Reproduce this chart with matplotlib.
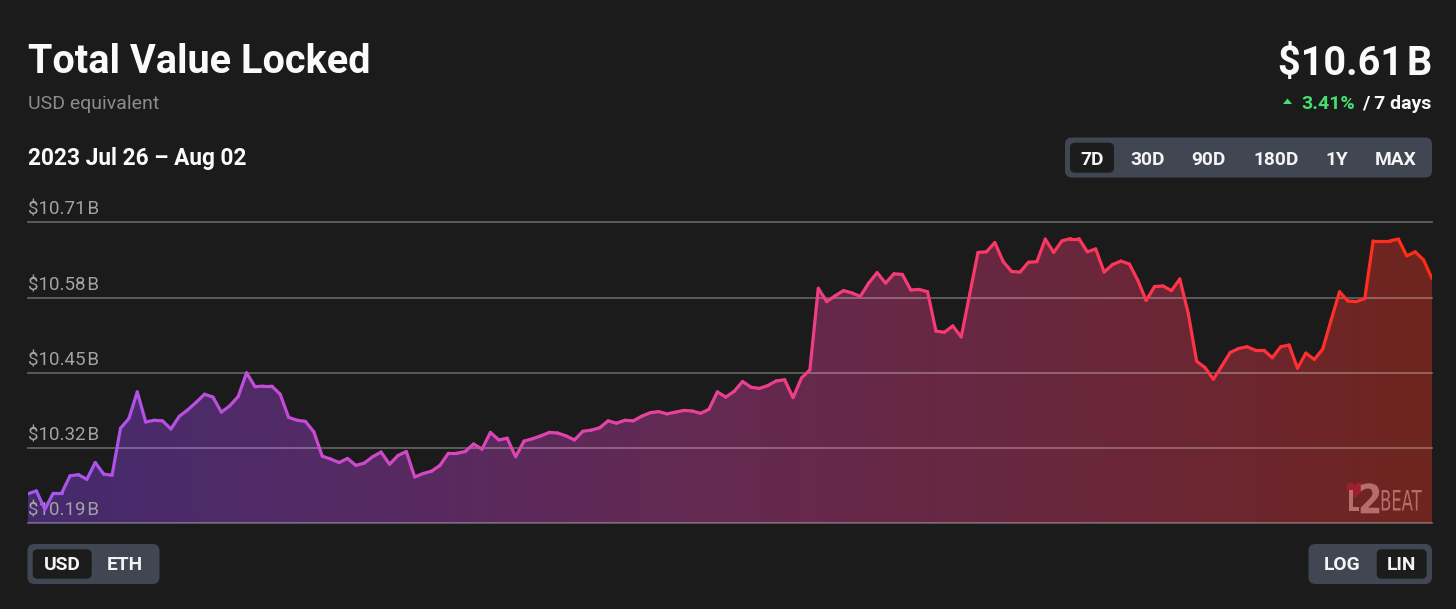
import numpy as np
import matplotlib
matplotlib.use("Agg")
import matplotlib.pyplot as plt
from matplotlib.collections import LineCollection
from matplotlib.colors import LinearSegmentedColormap
from matplotlib.patches import FancyBboxPatch, PathPatch, Polygon
from matplotlib.textpath import TextPath
from matplotlib.font_manager import FontProperties
from matplotlib.transforms import Affine2D, ScaledTranslation

# ---------------- data ----------------
tvl_billion = [
    10.241, 10.246, 10.214, 10.242, 10.242, 10.272, 10.274, 10.266, 10.295, 10.275,
    10.273, 10.354, 10.371, 10.417, 10.365, 10.368, 10.367, 10.353, 10.375, 10.386,
    10.399, 10.413, 10.408, 10.382, 10.393, 10.409, 10.450, 10.426, 10.427, 10.427,
    10.413, 10.373, 10.368, 10.366, 10.348, 10.306, 10.301, 10.295, 10.302, 10.290,
    10.294, 10.305, 10.313, 10.292, 10.307, 10.314, 10.270, 10.276, 10.280, 10.290,
    10.311, 10.311, 10.314, 10.327, 10.318, 10.347, 10.334, 10.337, 10.305, 10.332,
    10.336, 10.341, 10.347, 10.346, 10.341, 10.334, 10.349, 10.351, 10.355, 10.367,
    10.363, 10.368, 10.367, 10.375, 10.381, 10.383, 10.379, 10.382, 10.385, 10.384,
    10.380, 10.387, 10.417, 10.408, 10.418, 10.435, 10.425, 10.423, 10.428, 10.436,
    10.438, 10.407, 10.441, 10.455, 10.596, 10.573, 10.583, 10.592, 10.588, 10.582,
    10.605, 10.623, 10.605, 10.621, 10.620, 10.593, 10.594, 10.590, 10.522, 10.520,
    10.531, 10.512, 10.585, 10.658, 10.659, 10.675, 10.642, 10.625, 10.624, 10.641,
    10.642, 10.681, 10.658, 10.678, 10.682, 10.682, 10.659, 10.664, 10.624, 10.637,
    10.643, 10.638, 10.610, 10.575, 10.599, 10.600, 10.592, 10.612, 10.553, 10.470,
    10.459, 10.439, 10.462, 10.485, 10.492, 10.495, 10.489, 10.489, 10.476, 10.495,
    10.498, 10.458, 10.484, 10.473, 10.491, 10.541, 10.590, 10.574, 10.573, 10.578,
    10.678, 10.678, 10.678, 10.681, 10.652, 10.659, 10.645, 10.613,
]
hours = list(range(len(tvl_billion)))
y_ticks = [10.19, 10.32, 10.45, 10.58, 10.71]
y_tick_labels = ["$10.19\u200aB", "$10.32\u200aB", "$10.45\u200aB", "$10.58\u200aB", "$10.71\u200aB"]
title = "Total Value Locked"
subtitle = "USD equivalent"
date_range = "2023 Jul 26 \u2013 Aug 02"
current_value = "$10.61\u200aB"
change_pct = "3.41%"
change_period = "/ 7 days"
range_buttons = ["7D", "30D", "90D", "180D", "1Y", "MAX"]
unit_buttons = ["USD", "ETH"]
scale_buttons = ["LOG", "LIN"]

# ---------------- style ----------------
plt.rcParams["font.family"] = ["Roboto", "DejaVu Sans"]
BG = "#1b1b1b"
W, H = 1456, 609
fig = plt.figure(figsize=(W / 100, H / 100), dpi=100, facecolor=BG)

line_cmap = LinearSegmentedColormap.from_list(
    "line", ["#a456f0", "#c84ad4", "#e244a8", "#f43c7c", "#ff3452", "#ff2c14"])
fill_cmap = LinearSegmentedColormap.from_list(
    "fill", ["#452b6e", "#562a63", "#652950", "#6a273c", "#6f251e"])

# ---------------- chart axes ----------------
x0, x1 = 28, 1432
y_top, y_bot = 222.3, 523.3
ax = fig.add_axes([x0 / W, 1 - y_bot / H, (x1 - x0) / W, (y_bot - y_top) / H])
ax.set_facecolor(BG)
ax.set_xlim(hours[0], hours[-1])
ax.set_ylim(y_ticks[0], y_ticks[-1])
ax.axis("off")

x = np.asarray(hours, dtype=float)
y = np.asarray(tvl_billion)

poly = ax.fill_between(x, y, y_ticks[0], facecolor="none", edgecolor="none")
grad = np.linspace(0, 1, 512).reshape(1, -1)
im = ax.imshow(grad, cmap=fill_cmap, aspect="auto", zorder=1,
               extent=[x[0], x[-1], y_ticks[0], y_ticks[-1]], origin="lower")
im.set_clip_path(poly.get_paths()[0], transform=ax.transData)

for v in y_ticks:
    ax.axhline(v, color="white", alpha=0.3, lw=1.3, zorder=2, clip_on=False)

pts = np.column_stack([x, y]).reshape(-1, 1, 2)
segs = np.concatenate([pts[:-1], pts[1:]], axis=1)
lc = LineCollection(segs, cmap=line_cmap, linewidths=2.3, zorder=4,
                    capstyle="round", joinstyle="round")
lc.set_array((x[:-1] + x[1:]) / 2 / x[-1])
lc.set_clim(0, 1)
ax.add_collection(lc)

lab_tr = ax.get_yaxis_transform() + ScaledTranslation(0, 7.5 / 100, fig.dpi_scale_trans)
for v, lab in zip(y_ticks, y_tick_labels):
    ax.text(0, v, lab, transform=lab_tr, color="#a3a3a3", fontsize=13.5,
            ha="left", va="baseline", zorder=3)

# ---------------- overlay (pixel coords) ----------------
ov = fig.add_axes([0, 0, 1, 1], zorder=10)
ov.set_xlim(0, W)
ov.set_ylim(H, 0)
ov.axis("off")
ov.patch.set_alpha(0)

ov.text(28, 73, title, color="#fafafa", fontsize=28.5, fontweight="bold", va="baseline")
ov.text(28, 109, subtitle, color="#8c8c8c", fontsize=14, va="baseline")
ov.text(28, 165, date_range, color="#fafafa", fontsize=16.3, fontweight="bold", va="baseline")
ov.text(1432, 75, current_value, color="#fafafa", fontsize=28.5, fontweight="bold",
        ha="right", va="baseline")
ov.text(1432, 109, change_period, color="#fafafa", fontsize=14, fontweight="bold",
        ha="right", va="baseline")
ov.text(1355, 109, change_pct, color="#46de6e", fontsize=14, fontweight="bold",
        ha="right", va="baseline")
ov.add_patch(Polygon([[1283, 104], [1292, 104], [1287.5, 98.5]], closed=True,
                     color="#46de6e", lw=0))


def rbox(xa, ya, xb, yb, color, r):
    ov.add_patch(FancyBboxPatch((xa, ya), xb - xa, yb - ya,
                                boxstyle=f"round,pad=0,rounding_size={r}",
                                facecolor=color, edgecolor="none"))


BTN = "#414752"
SEL = "#1c1c1c"
BTN_FONT = dict(color="#f4f4f4", fontsize=13.8, fontweight="bold", ha="center", va="baseline")
# range buttons
rbox(1065, 137.5, 1432, 177.5, BTN, 7)
rbox(1070, 142.7, 1114, 172.7, SEL, 5)
for lab, cx in zip(range_buttons, [1092, 1147.5, 1208.5, 1276, 1336.5, 1395.5]):
    ov.text(cx, 165, lab, **BTN_FONT)
# unit buttons
rbox(27.5, 544, 159.5, 584, BTN, 7)
rbox(32.7, 549.3, 91.7, 578.7, SEL, 5)
for lab, cx in zip(unit_buttons, [62.3, 125]):
    ov.text(cx, 570.5, lab, **BTN_FONT)
# scale buttons
rbox(1308.5, 544, 1432, 584, BTN, 7)
rbox(1376.7, 549.3, 1426.7, 578.7, SEL, 5)
for lab, cx in zip(scale_buttons, [1341.7, 1401.5]):
    ov.text(cx, 570.5, lab, **BTN_FONT)


# ---------------- L2BEAT watermark ----------------
def glyph(s, box, color, alpha, family="DejaVu Sans", weight="normal"):
    tp = TextPath((0, 0), s, size=100, prop=FontProperties(family=family, weight=weight))
    ext = tp.get_extents()
    xa, ya, xb, yb = box
    sx = (xb - xa) / ext.width
    sy = (yb - ya) / ext.height
    tr = Affine2D().translate(-ext.x0, -ext.y0).scale(sx, -sy).translate(xa, yb)
    ov.add_patch(PathPatch(tr.transform_path(tp), facecolor=color, edgecolor="none",
                           alpha=alpha))


glyph("\u2665", (1346.5, 482.5, 1363.5, 498.5), "#a81f30", 0.8)
glyph("L", (1349.3, 490, 1359.3, 510.5), "#c98080", 0.8, weight="bold")
glyph("2", (1360.7, 483.3, 1379.3, 513.3), "#c98080", 0.8, weight="bold")
glyph("BEAT", (1381.7, 490, 1421.7, 510.5), "#c98080", 0.8)

fig.savefig("out.png", dpi=100, facecolor=BG)
